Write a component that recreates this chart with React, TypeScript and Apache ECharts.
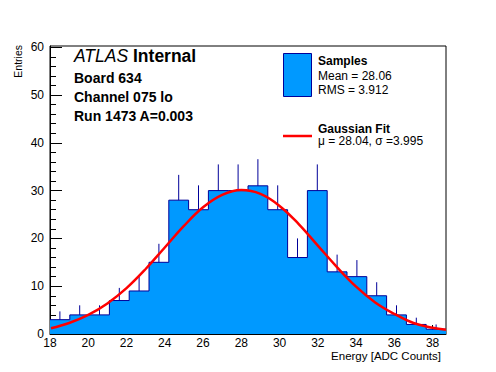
import React, { useEffect, useRef } from 'react';
import * as echarts from 'echarts';

// Histogram binning (20 equal bins)
const BIN_LOW = 18;
const BIN_WIDTH = 1.035;
const binCounts = [3, 4, 4, 7, 9, 15, 28, 26, 30, 30, 31, 26, 16, 30, 13, 12, 8, 4, 2, 1];

// Gaussian fit curve
const fitX = [18.05, 19, 20, 21, 22, 23, 24, 25, 26, 27, 28, 29, 30, 31, 32, 33, 34, 35, 36, 37, 38, 38.7];
const fitY = [1.2, 2.3, 4.0, 6.4, 9.6, 13.6, 18.1, 22.6, 26.5, 29.1, 30.1, 29.3, 26.8, 23.0, 18.5, 14.0, 9.9, 6.6, 4.2, 2.3, 1.3, 0.9];

// Axis ticks
const xTickLabels = [18, 20, 22, 24, 26, 28, 30, 32, 34, 36, 38];
const yTickLabels = [0, 10, 20, 30, 40, 50, 60];
const X_MIN = 18;
const X_MAX = 38.7;
const Y_MIN = 0;
const Y_MAX = 60.25;

const FONT = '"Liberation Sans", Arial, Helvetica, sans-serif';
const FILL = '#0099ff';
const EDGE = '#000099';

export default function App() {
  const ref = useRef<HTMLDivElement>(null);

  useEffect(() => {
    if (!ref.current) return;
    const chart = echarts.init(ref.current, undefined, { renderer: 'svg' });

    const edges = binCounts.map((_, i) => BIN_LOW + i * BIN_WIDTH);
    const lastEdge = BIN_LOW + binCounts.length * BIN_WIDTH;
    const stepData: number[][] = binCounts.map((c, i) => [edges[i], c]);
    stepData.push([lastEdge, binCounts[binCounts.length - 1]]);
    const errData = binCounts.map((c, i) => [edges[i] + BIN_WIDTH / 2, c]);
    const fitData = fitX.map((x, i) => [x, fitY[i]]);

    const xMinor: number[] = [];
    for (let v = X_MIN; v <= X_MAX + 1e-9; v += 0.5) xMinor.push(v);
    const yMinor: number[] = [];
    for (let v = Y_MIN; v <= Y_MAX + 1e-9; v += 2) yMinor.push(v);

    const axisText = { color: '#000', fontSize: 12, fontFamily: FONT, lineHeight: 12 };
    const small = (text: string, x: number, y: number, bold = false) => ({
      type: 'text', x, y,
      style: {
        text, fontSize: 12, lineHeight: 12, fontWeight: bold ? 'bold' : 'normal',
        fontFamily: FONT, fill: '#000', verticalAlign: 'middle',
      },
    });
    const big = (text: string, y: number) => ({
      type: 'text', x: 74, y,
      style: { text, fontSize: 14, lineHeight: 15, fontWeight: 'bold', fontFamily: FONT, fill: '#000', verticalAlign: 'middle' },
    });

    chart.setOption({
      animation: false,
      backgroundColor: '#fff',
      grid: {
        left: 50, top: 46, width: 396, height: 288,
        show: true, borderColor: '#000', borderWidth: 1, backgroundColor: 'transparent',
      },
      xAxis: [
        {
          type: 'value', min: X_MIN, max: X_MAX, position: 'bottom',
          axisLine: { show: true, lineStyle: { color: '#000', width: 1 } },
          axisTick: { show: true, inside: true, length: 9, customValues: xTickLabels, lineStyle: { color: '#000' } },
          axisLabel: { show: true, customValues: xTickLabels, margin: 3, ...axisText },
          splitLine: { show: false },
        },
        {
          type: 'value', min: X_MIN, max: X_MAX, position: 'bottom',
          axisLine: { show: false },
          axisTick: { show: true, inside: true, length: 4.5, customValues: xMinor, lineStyle: { color: '#000' } },
          axisLabel: { show: false },
          splitLine: { show: false },
        },
      ],
      yAxis: [
        {
          type: 'value', min: Y_MIN, max: Y_MAX, position: 'left',
          axisLine: { show: true, lineStyle: { color: '#000', width: 1 } },
          axisTick: { show: true, inside: true, length: 12, customValues: yTickLabels, lineStyle: { color: '#000' } },
          axisLabel: { show: true, customValues: yTickLabels, margin: 6, ...axisText },
          splitLine: { show: false },
        },
        {
          type: 'value', min: Y_MIN, max: Y_MAX, position: 'left',
          axisLine: { show: false },
          axisTick: { show: true, inside: true, length: 6, customValues: yMinor, lineStyle: { color: '#000' } },
          axisLabel: { show: false },
          splitLine: { show: false },
        },
      ],
      series: [
        {
          type: 'line', name: 'Samples', xAxisIndex: 0, yAxisIndex: 0,
          data: stepData, step: 'end', showSymbol: false, symbol: 'none',
          lineStyle: { color: EDGE, width: 1 },
          areaStyle: { color: FILL, opacity: 1 },
          z: 2,
        },
        {
          type: 'custom', name: 'errors', xAxisIndex: 0, yAxisIndex: 0,
          data: errData,
          renderItem: (params: any, api: any) => {
            const x = api.value(0);
            const y = api.value(1);
            const p0 = api.coord([x, y]);
            const p1 = api.coord([x, y + Math.sqrt(y)]);
            return {
              type: 'line',
              shape: { x1: p0[0], y1: p0[1], x2: p1[0], y2: p1[1] },
              style: { stroke: EDGE, lineWidth: 1 },
            };
          },
          z: 3,
        },
        {
          type: 'line', name: 'Gaussian Fit', xAxisIndex: 0, yAxisIndex: 0,
          data: fitData, smooth: 0.4, showSymbol: false, symbol: 'none',
          lineStyle: { color: '#ff0000', width: 2.5 },
          z: 4,
        },
      ],
      graphic: [
        {
          type: 'text', x: 18, y: 45, rotation: Math.PI / 2,
          style: { text: 'Entries', fontSize: 10.5, lineHeight: 11, fontFamily: FONT, fill: '#000', align: 'right', verticalAlign: 'middle' },
        },
        {
          type: 'text', x: 441, y: 356,
          style: { text: 'Energy [ADC Counts]', fontSize: 11.5, lineHeight: 11, fontFamily: FONT, fill: '#000', align: 'right', verticalAlign: 'middle' },
        },
        {
          type: 'text', x: 74, y: 56,
          style: {
            text: '{a|ATLAS} {b|Internal}', fontSize: 17.5, fontFamily: FONT, fill: '#000', verticalAlign: 'middle',
            rich: {
              a: { fontStyle: 'italic', fontSize: 17.5, fontFamily: FONT },
              b: { fontWeight: 'bold', fontSize: 17.5, fontFamily: FONT },
            },
          },
        },
        big('Board 634', 78),
        big('Channel 075 lo', 97),
        big('Run 1473 A=0.003', 115.5),
        {
          type: 'rect', shape: { x: 283.5, y: 53.5, width: 28, height: 43 },
          style: { fill: FILL, stroke: EDGE, lineWidth: 1 },
        },
        small('Samples', 318, 61, true),
        small('Mean = 28.06', 318, 76),
        small('RMS = 3.912', 318, 89.5),
        {
          type: 'line', shape: { x1: 283, y1: 136, x2: 312, y2: 136 },
          style: { stroke: '#ff0000', lineWidth: 2.5 },
        },
        small('Gaussian Fit', 318, 128.5, true),
        small('μ = 28.04, σ =3.995', 318, 141),
      ],
    });

    return () => chart.dispose();
  }, []);

  return <div ref={ref} style={{ width: 496, height: 372, position: 'absolute', left: 0, top: 0 }} />;
}
